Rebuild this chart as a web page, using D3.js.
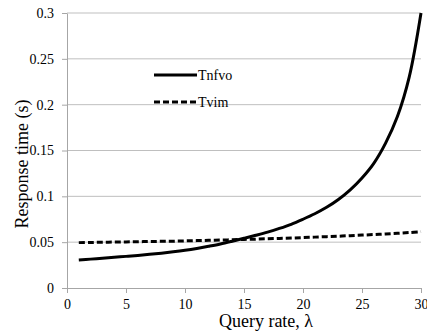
<!DOCTYPE html>
<html>
  <head>
    <script src="https://cdn.jsdelivr.net/npm/d3@7/dist/d3.min.js"></script>
    <style>
      body { margin: 0; background: #ffffff; }
      svg text { font-family: "Liberation Serif", "Times New Roman", serif; fill: #000; }
    </style>
  </head>
  <body>
    <svg width="427" height="333" id="mainsvg"></svg>
    <script>
        // data
        const lambdas = d3.range(1, 31);
        const tnfvo = [0.0305, 0.0315, 0.0325, 0.0335, 0.0345, 0.0355, 0.0367, 0.0380, 0.0395, 0.0412,
                       0.0432, 0.0455, 0.0480, 0.0510, 0.0542, 0.0575, 0.0610, 0.0650, 0.0695, 0.0750,
                       0.0810, 0.0880, 0.0965, 0.1070, 0.1200, 0.1360, 0.1580, 0.1870, 0.2300, 0.3000];
        const tvim = [0.0495, 0.0497, 0.0499, 0.0501, 0.0503, 0.0505, 0.0507, 0.0509, 0.0511, 0.0514,
                      0.0517, 0.0520, 0.0523, 0.0526, 0.0530, 0.0533, 0.0537, 0.0541, 0.0545, 0.0550,
                      0.0555, 0.0560, 0.0565, 0.0571, 0.0577, 0.0583, 0.0590, 0.0597, 0.0605, 0.0615];
        const seriesNames = ['Tnfvo', 'Tvim'];
        const xTicks = [0, 5, 10, 15, 20, 25, 30];
        const yTicks = [0, 0.05, 0.1, 0.15, 0.2, 0.25, 0.3];

        const svg = d3.select('#mainsvg');
        const margin = {top: 13, right: 6, bottom: 45, left: 67};
        const width = +svg.attr('width');
        const height = +svg.attr('height');
        const innerWidth = width - margin.left - margin.right;
        const innerHeight = height - margin.top - margin.bottom;
        const serif = '"Liberation Serif", "Times New Roman", serif';

        const xScale = d3.scaleLinear().domain([0, 30]).range([0, innerWidth]);
        const yScale = d3.scaleLinear().domain([0, 0.3]).range([innerHeight, 0]);

        const g = svg.append('g').attr('transform', `translate(${margin.left}, ${margin.top})`);

        // horizontal gridlines
        g.selectAll('.grid').data(yTicks.slice(1)).enter().append('line')
            .attr('x1', 0).attr('x2', innerWidth)
            .attr('y1', d => yScale(d)).attr('y2', d => yScale(d))
            .attr('stroke', '#bfbfbf').attr('stroke-width', 1);

        // y axis
        const yAxis = d3.axisLeft(yScale)
            .tickValues(yTicks)
            .tickFormat(d => String(+d.toFixed(2)))
            .tickSizeInner(5)
            .tickSizeOuter(0)
            .tickPadding(8);
        const yAxisGroup = g.append('g').call(yAxis)
            .attr('font-family', serif).attr('font-size', 14);
        yAxisGroup.select('.domain').attr('stroke', '#a6a6a6');
        yAxisGroup.selectAll('.tick line').attr('stroke', '#a6a6a6');

        // x axis
        const xAxis = d3.axisBottom(xScale)
            .tickValues(xTicks)
            .tickSizeInner(5)
            .tickSizeOuter(0)
            .tickPadding(6);
        const xAxisGroup = g.append('g').attr('transform', `translate(0, ${innerHeight})`).call(xAxis)
            .attr('font-family', serif).attr('font-size', 14);
        xAxisGroup.select('.domain').attr('stroke', '#a6a6a6');
        xAxisGroup.selectAll('.tick line').attr('stroke', '#a6a6a6');

        // axis titles
        svg.append('text')
            .attr('x', 266)
            .attr('y', 327)
            .attr('text-anchor', 'middle')
            .style('font-size', '18px')
            .text('Query rate, λ');
        svg.append('text')
            .attr('transform', 'rotate(-90)')
            .attr('x', -164)
            .attr('y', 28)
            .attr('text-anchor', 'middle')
            .style('font-size', '18px')
            .text('Response time (s)');

        // lines
        const line = d3.line()
            .curve(d3.curveCatmullRom)
            .x(d => xScale(d[0]))
            .y(d => yScale(d[1]));
        const series = [tnfvo, tvim];
        const dashes = [null, '6,3'];
        series.forEach((vals, i) => {
            g.append('path')
                .datum(lambdas.map((l, j) => [l, vals[j]]))
                .attr('d', line)
                .attr('fill', 'none')
                .attr('stroke', '#000')
                .attr('stroke-width', 3)
                .attr('stroke-dasharray', dashes[i]);
        });

        // legend
        const legendY = [75, 102];
        seriesNames.forEach((name, i) => {
            svg.append('line')
                .attr('x1', 154).attr('x2', 197)
                .attr('y1', legendY[i]).attr('y2', legendY[i])
                .attr('stroke', '#000').attr('stroke-width', 3)
                .attr('stroke-dasharray', dashes[i]);
            svg.append('text')
                .attr('x', 198).attr('y', legendY[i] + 5)
                .style('font-size', '14px')
                .text(name);
        });
    </script>
  </body>
</html>
